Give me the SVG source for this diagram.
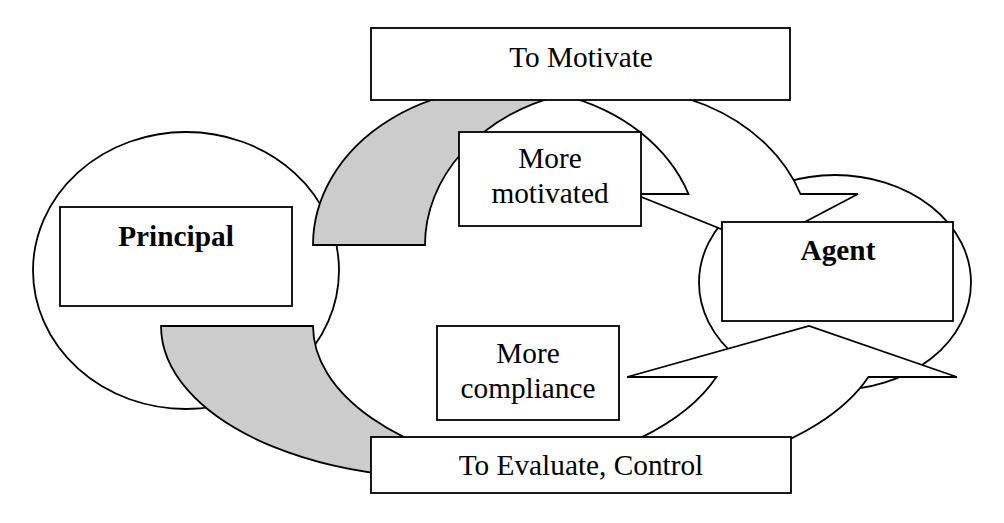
<svg xmlns="http://www.w3.org/2000/svg" width="1004" height="523" viewBox="0 0 1004 523">
  <style>
    .ln { stroke: #000; stroke-width: 1.8; stroke-linejoin: miter; }
    .wf { fill: #fff; }
    .gf { fill: #cccccc; }
    .t { font-family: "Liberation Serif", "Times New Roman", serif; font-size: 29.3px; fill: #000; text-anchor: middle; }
    .b { font-weight: bold; }
  </style>
  <rect width="1004" height="523" fill="#fff"/>
  <g id="principal-circle">
    <ellipse class="ln wf" cx="186" cy="270.5" rx="153" ry="138.5"/>
  </g>
  <g id="agent-circle">
    <ellipse class="ln wf" cx="835" cy="282.5" rx="136" ry="107.5"/>
  </g>
  <g id="connectors">
    <g id="arrow-motivate">
      <path class="ln gf" d="M313,245 A193,157 0 0 1 562,94.8 A193,157 0 0 0 425,245 Z"/>
      <path class="ln wf" d="M562,94.8 A193,157 0 0 1 800.5,194 L858,194 L761,245 L634,194 L688.5,194 A193,157 0 0 0 562,94.8 Z"/>
    </g>
    <g id="arrow-evaluate">
      <path class="ln gf" d="M161,326 A286,152 0 0 0 523,472.5 A286,152 0 0 1 313,326 Z"/>
      <path class="ln wf" d="M523,472.5 A286,152 0 0 0 716.4,377 L627,377 L809,326 L957,377 L868.4,377 A286,152 0 0 1 523,472.5 Z"/>
    </g>
  </g>
  <g id="principal">
    <rect class="ln wf" x="60" y="207" width="232" height="99"/>
    <text class="t b" x="176" y="246">Principal</text>
  </g>
  <g id="agent">
    <rect class="ln wf" x="722" y="222" width="231" height="99"/>
    <text class="t b" x="838" y="260">Agent</text>
  </g>
  <g id="more-motivated">
    <rect class="ln wf" x="459" y="132" width="182" height="94"/>
    <text class="t" x="550" y="168">More</text>
    <text class="t" x="550" y="203">motivated</text>
  </g>
  <g id="more-compliance">
    <rect class="ln wf" x="437" y="326" width="182" height="94"/>
    <text class="t" x="528" y="363">More</text>
    <text class="t" x="528" y="398">compliance</text>
  </g>
  <g id="to-motivate">
    <rect class="ln wf" x="371" y="28" width="419" height="72"/>
    <text class="t" x="581" y="67">To Motivate</text>
  </g>
  <g id="to-evaluate">
    <rect class="ln wf" x="371" y="437" width="420" height="56"/>
    <text class="t" x="581" y="475">To Evaluate, Control</text>
  </g>
</svg>
